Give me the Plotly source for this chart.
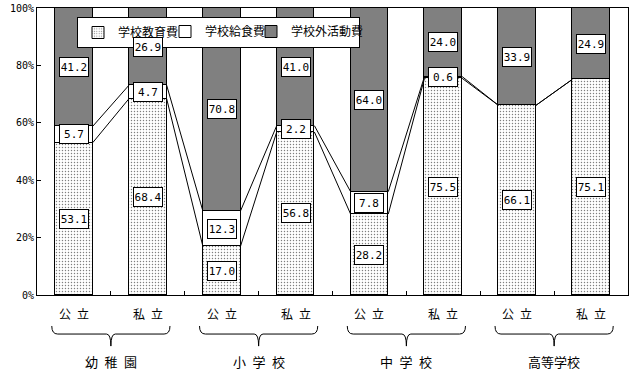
import plotly.graph_objects as go

# ---- data ----
groups = ["幼\u2002稚\u2002園", "小\u2002学\u2002校", "中\u2002学\u2002校", "高等学校"]
types = ["公\u2002立", "私\u2002立"]
series_names = ["学校教育費", "学校給食費", "学校外活動費"]
edu = [53.1, 68.4, 17.0, 56.8, 28.2, 75.5, 66.1, 75.1]
lunch = [5.7, 4.7, 12.3, 2.2, 7.8, 0.6, 0.0, 0.0]
outside = [41.2, 26.9, 70.8, 41.0, 64.0, 24.0, 33.9, 24.9]
y_ticks = [0, 20, 40, 60, 80, 100]

n = len(edu)
xs = list(range(n))
bw = 0.51

fig = go.Figure()
styles = [
    dict(color="white", pattern=dict(shape=".", size=3, solidity=0.18, fgcolor="black", bgcolor="white")),
    dict(color="white", pattern=dict(shape="")),
    dict(color="#808080", pattern=dict(shape="")),
]
legend_ids = ["legend", "legend2", "legend3"]
for name, vals, st, lg in zip(series_names, [edu, lunch, outside], styles, legend_ids):
    fig.add_trace(go.Bar(
        x=xs, y=vals, name=name, width=bw, legend=lg, showlegend=True,
        marker=dict(color=st["color"], line=dict(color="black", width=1), pattern=st["pattern"]),
    ))

# connecting lines between adjacent bars
cum1 = [e for e in edu]
cum2 = [e + l for e, l in zip(edu, lunch)]
shapes = []
for i in range(n - 1):
    for c in (cum1, cum2):
        shapes.append(dict(type="line", xref="x", yref="y",
                           x0=i + bw / 2, y0=c[i], x1=i + 1 - bw / 2, y1=c[i + 1],
                           line=dict(color="black", width=1)))

# value labels
annotations = []
lab_font = dict(family="DejaVu Sans Mono", size=11, color="black")
for i in range(n):
    segs = [(0, edu[i]), (edu[i], edu[i] + lunch[i]), (edu[i] + lunch[i], edu[i] + lunch[i] + outside[i])]
    for (lo, hi), v in zip(segs, [edu[i], lunch[i], outside[i]]):
        if v <= 0:
            continue
        annotations.append(dict(x=i, y=(lo + hi) / 2, xref="x", yref="y", text=f"{v:.1f}",
                                showarrow=False, font=lab_font, bgcolor="white",
                                bordercolor="black", borderwidth=1, borderpad=1,
                                width=26, height=16))

# category labels
jp_font = dict(family="Noto Sans CJK JP", size=12, color="black")
grp_font = dict(family="Noto Sans CJK JP", size=13, color="black")
for i in range(n):
    annotations.append(dict(x=i, y=-0.063, xref="x", yref="paper", text=types[i % 2],
                            showarrow=False, font=jp_font, yanchor="middle"))
for g, name in enumerate(groups):
    annotations.append(dict(x=2 * g + 0.5, y=-0.233, xref="x", yref="paper", text=name,
                            showarrow=False, font=grp_font, yanchor="middle"))
    x0 = 2 * g - 0.30
    x1 = 2 * g + 1.30
    xm = 2 * g + 0.5
    yt, ym, yb = -0.108, -0.136, -0.178
    path = (f"M{x0},{yt} Q{x0},{ym} {x0+0.08},{ym} L{xm-0.06},{ym} "
            f"Q{xm},{ym} {xm},{yb} Q{xm},{ym} {xm+0.06},{ym} "
            f"L{x1-0.08},{ym} Q{x1},{ym} {x1},{yt}")
    shapes.append(dict(type="path", xref="x", yref="paper", path=path,
                       line=dict(color="black", width=1)))

leg_font = dict(family="Noto Sans CJK JP", size=12, color="black")
leg_common = dict(orientation="h", y=0.9686, xanchor="left", yanchor="top",
                  itemwidth=30, font=leg_font)

fig.update_layout(
    width=640, height=371,
    margin=dict(l=37, r=12, t=8, b=76, autoexpand=False),
    barmode="stack", bargap=0, showlegend=True,
    plot_bgcolor="white", paper_bgcolor="white",
    shapes=shapes, annotations=annotations,
    # first legend carries the white framed box spanning all three entries
    legend=dict(x=0.0677, bgcolor="white", bordercolor="black", borderwidth=1,
                entrywidth=236, entrywidthmode="pixels", **leg_common),
    legend2=dict(x=0.2166, bgcolor="rgba(0,0,0,0)", borderwidth=0, **leg_common),
    legend3=dict(x=0.3621, bgcolor="rgba(0,0,0,0)", borderwidth=0, **leg_common),
    xaxis=dict(range=[-0.5, n - 0.5], tickvals=[i + 0.5 for i in range(n - 1)],
               ticktext=[""] * (n - 1), ticks="inside", ticklen=4, tickcolor="black",
               showline=True, linecolor="black", linewidth=1, mirror=True,
               showgrid=False, zeroline=False, automargin=False),
    yaxis=dict(range=[0, 100], tickvals=y_ticks, ticktext=[f"{t}%" for t in y_ticks],
               ticks="inside", ticklen=4, tickcolor="black",
               showline=True, linecolor="black", linewidth=1, mirror=True,
               showgrid=False, zeroline=False, automargin=False,
               tickfont=dict(family="DejaVu Sans Mono", size=10, color="black")),
)

# remove the browser's default 8px body margin so the figure sits at the window's corner
fig.write_html("out.html", post_script="document.body.style.margin='0';",
               config={"displayModeBar": False})
